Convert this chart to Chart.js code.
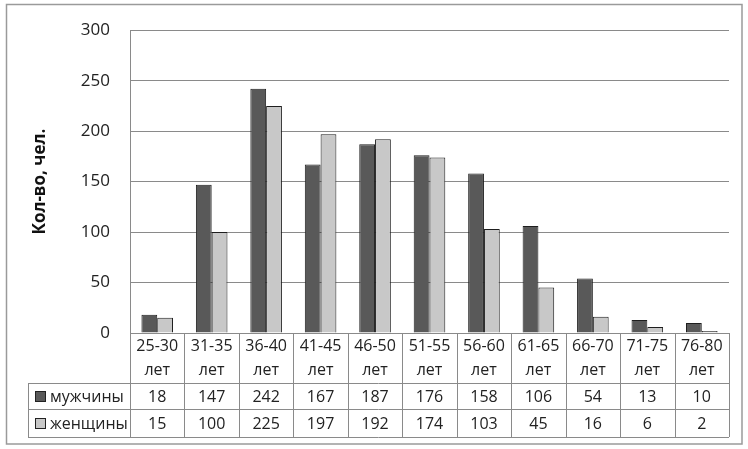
<!DOCTYPE html>
<html>
<head>
<meta charset="utf-8">
<script src="https://cdn.jsdelivr.net/npm/chart.js@4"></script>
<style>
html,body{margin:0;padding:0;background:#fff;}
canvas{display:block;}
</style>
</head>
<body>
<canvas id="c" width="748" height="449"></canvas>
<script>
const categories = ["25-30 лет","31-35 лет","36-40 лет","41-45 лет","46-50 лет","51-55 лет","56-60 лет","61-65 лет","66-70 лет","71-75 лет","76-80 лет"];
const seriesNames = ["мужчины","женщины"];
const men = [18,147,242,167,187,176,158,106,54,13,10];
const women = [15,100,225,197,192,174,103,45,16,6,2];
const yTicks = [0,50,100,150,200,250,300];
const yTitle = "Кол-во, чел.";

const colors = ["#595959","#c8c8c8"];
const FONT = "'Open Sans', 'DejaVu Sans', sans-serif";
const lineColor = "#8a8a8a";

const tablePlugin = {
  id: 'tablePlugin',
  beforeDraw(chart){
    const ctx = chart.ctx;
    ctx.save();
    ctx.fillStyle = '#fff';
    ctx.fillRect(0,0,chart.width,chart.height);
    ctx.restore();
  },
  afterDraw(chart){
    const ctx = chart.ctx;
    const xs = chart.scales.x;
    const area = chart.chartArea;
    const n = categories.length;
    const cw = (area.right - area.left) / n;
    const rowTop = area.bottom;
    const r1 = rowTop + 50;
    const r2 = r1 + 26;
    const r3 = r2 + 28;
    const legLeft = 28;
    ctx.save();
    // outer border
    ctx.strokeStyle = '#9a9a9a';
    ctx.lineWidth = 1.5;
    ctx.strokeRect(6.5, 4.5, 735.5, 439.5);
    ctx.strokeStyle = lineColor;
    ctx.lineWidth = 1;
    // horizontal lines
    ctx.beginPath();
    ctx.moveTo(area.left, rowTop + 0.5); ctx.lineTo(area.right, rowTop + 0.5);
    [r1, r2, r3].forEach(y => { ctx.moveTo(legLeft, y + 0.5); ctx.lineTo(area.right, y + 0.5); });
    // vertical lines
    for (let k = 0; k <= n; k++) {
      const x = Math.round(area.left + k * cw) + 0.5;
      ctx.moveTo(x, rowTop); ctx.lineTo(x, r3);
    }
    ctx.moveTo(legLeft + 0.5, r1); ctx.lineTo(legLeft + 0.5, r3);
    ctx.stroke();
    // text
    ctx.fillStyle = '#222';
    ctx.font = "16px " + FONT;
    ctx.textAlign = 'center';
    ctx.textBaseline = 'middle';
    categories.forEach((c, i) => {
      const x = xs.getPixelForValue(i);
      const parts = c.split(' ');
      ctx.fillText(parts[0], x, rowTop + 13);
      ctx.fillText(parts[1], x, rowTop + 37);
      ctx.fillText(String(men[i]), x, (r1 + r2) / 2 + 1);
      ctx.fillText(String(women[i]), x, (r2 + r3) / 2 + 1);
    });
    // legend keys
    ctx.textAlign = 'left';
    [[r1, r2], [r2, r3]].forEach((r, j) => {
      const cy = (r[0] + r[1]) / 2;
      ctx.fillStyle = colors[j];
      ctx.fillRect(35, cy - 5, 11, 11);
      ctx.strokeStyle = '#222';
      ctx.strokeRect(35.5, cy - 4.5, 10, 10);
      ctx.fillStyle = '#222';
      ctx.fillText(seriesNames[j], 50, cy + 1);
    });
    ctx.restore();
  }
};

new Chart(document.getElementById('c'), {
  type: 'bar',
  data: {
    labels: categories,
    datasets: [
      { label: seriesNames[0], data: men, backgroundColor: colors[0], borderColor: '#1e1e1e', borderWidth: 1, barPercentage: 1, categoryPercentage: 0.58 },
      { label: seriesNames[1], data: women, backgroundColor: colors[1], borderColor: '#1e1e1e', borderWidth: 1, barPercentage: 1, categoryPercentage: 0.58 }
    ]
  },
  options: {
    responsive: false,
    animation: false,
    devicePixelRatio: 1,
    layout: { padding: { top: 24, bottom: 116, right: 19, left: 0 } },
    plugins: { legend: { display: false }, tooltip: { enabled: false } },
    scales: {
      x: { display: false },
      y: {
        min: 0, max: 300,
        afterBuildTicks(scale){ scale.ticks = yTicks.map(v => ({ value: v })); },
        afterFit(scale){ scale.width = 130; },
        ticks: { padding: 20, color: '#222', font: { family: FONT, size: 17 } },
        grid: { color: lineColor, lineWidth: 1, drawTicks: false },
        border: { display: true, color: lineColor, width: 1 },
        title: { display: true, text: yTitle, color: '#111', font: { family: FONT, size: 17, weight: 'bold' }, padding: { top: 30, bottom: 0 } }
      }
    }
  },
  plugins: [tablePlugin]
});
</script>
</body>
</html>
